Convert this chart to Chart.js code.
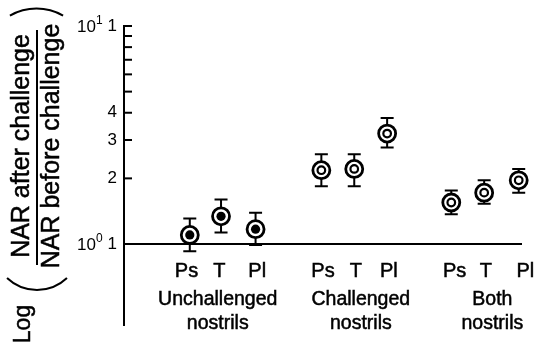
<!DOCTYPE html>
<html>
<head>
<meta charset="utf-8">
<script src="https://cdn.jsdelivr.net/npm/chart.js@4.4.1/dist/chart.umd.min.js"></script>
<style>
  body { margin: 0; background: #fff; }
  #wrap { width: 539px; height: 348px; }
</style>
</head>
<body>
<div id="wrap"><canvas id="narchart" width="539" height="348"></canvas></div>
<script>
// values
var categories = ["Ps", "T", "Pl", "Ps", "T", "Pl", "Ps", "T", "Pl"];
var xPos = [2, 2.95, 4, 6, 7, 8, 9.95, 10.95, 12];
var labelPos = [1.9, 2.9, 4.05, 6.05, 7.05, 8.05, 10.05, 11.0, 12.2];
var ratio = [1.10, 1.34, 1.17, 2.18, 2.21, 3.21, 1.55, 1.72, 1.96];
var upper = [1.31, 1.60, 1.39, 2.58, 2.58, 3.78, 1.76, 1.96, 2.21];
var lower = [0.925, 1.13, 0.99, 1.84, 1.84, 2.77, 1.37, 1.53, 1.72];
var filled = [true, true, true, false, false, false, false, false, false];
var groups = [["Unchallenged", "nostrils"], ["Challenged", "nostrils"], ["Both", "nostrils"]];
var groupPos = [2.85, 7.2, 11.2];
var yTicks = [1, 2, 3, 4, 5, 6, 7, 8, 9, 10];
var yTickLabels = {1: "1", 2: "2", 3: "3", 4: "4", 10: "1"};

var FONT = "'Liberation Sans', Arial, Helvetica, sans-serif";

var pts = xPos.map(function (x, i) { return { x: x, y: ratio[i] }; });

// slightly heavier text, like the printed figure
function label(ctx, txt, x, y) {
  ctx.fillText(txt, x, y);
  ctx.strokeText(txt, x, y);
}

// error bars, drawn under the markers
var errorBars = {
  id: "errorBars",
  beforeDatasetsDraw: function (chart) {
    var ctx = chart.ctx, xs = chart.scales.x, ys = chart.scales.y;
    ctx.save();
    ctx.strokeStyle = "#000";
    ctx.lineWidth = 2;
    xPos.forEach(function (x, i) {
      var px = xs.getPixelForValue(x);
      var top = ys.getPixelForValue(upper[i]);
      var bot = ys.getPixelForValue(lower[i]);
      ctx.beginPath();
      ctx.moveTo(px, top); ctx.lineTo(px, bot);
      ctx.moveTo(px - 6.5, top); ctx.lineTo(px + 6.5, top);
      ctx.moveTo(px - 6.5, bot); ctx.lineTo(px + 6.5, bot);
      ctx.stroke();
    });
    ctx.restore();
  }
};

// inward tick marks, labels and axis title
var decor = {
  id: "decor",
  afterDraw: function (chart) {
    var ctx = chart.ctx, xs = chart.scales.x, ys = chart.scales.y;
    var left = chart.chartArea.left;
    ctx.save();
    ctx.strokeStyle = "#000";
    ctx.lineWidth = 2;
    yTicks.forEach(function (v) {
      if (v === 1) return;
      var py = ys.getPixelForValue(v);
      ctx.beginPath();
      ctx.moveTo(left, py); ctx.lineTo(left + 8, py);
      ctx.stroke();
    });

    ctx.fillStyle = "#000";
    ctx.lineWidth = 0.5;
    // 10^1 and 10^0 in front of the two "1" ticks
    [[10, "1"], [1, "0"]].forEach(function (d) {
      var py = ys.getPixelForValue(d[0]);
      ctx.font = "17px " + FONT;
      ctx.textAlign = "left";
      ctx.textBaseline = "middle";
      ctx.fillText("10", 77, py + 1);
      ctx.font = "12px " + FONT;
      ctx.fillText(d[1], 96, py - 5);
    });

    // category labels
    ctx.font = "20px " + FONT;
    ctx.textAlign = "center";
    ctx.textBaseline = "middle";
    categories.forEach(function (c, i) {
      label(ctx, c, xs.getPixelForValue(labelPos[i]), 271);
    });
    // group labels
    ctx.font = "19.5px " + FONT;
    groups.forEach(function (g, i) {
      var px = xs.getPixelForValue(groupPos[i]);
      label(ctx, g[0], px, 300);
      label(ctx, g[1], px, 324);
    });

    // y axis title: Log ( NAR after / NAR before )
    ctx.save();
    ctx.rotate(-Math.PI / 2);
    ctx.font = "25px " + FONT;
    ctx.textAlign = "center";
    ctx.textBaseline = "middle";
    label(ctx, "NAR after challenge", -146, 22);
    label(ctx, "NAR before challenge", -146, 52);
    ctx.font = "23px " + FONT;
    label(ctx, "Log", -324, 24);
    ctx.restore();
    ctx.lineWidth = 2;
    ctx.beginPath();
    ctx.moveTo(37, 30); ctx.lineTo(37, 265);
    ctx.stroke();
    // rotated parentheses
    ctx.beginPath();
    ctx.arc(36.5, 62, 53.5, 1.5 * Math.PI - 0.52, 1.5 * Math.PI + 0.52);
    ctx.stroke();
    ctx.beginPath();
    ctx.arc(37, 246.5, 43.5, 0.5 * Math.PI - 0.76, 0.5 * Math.PI + 0.76);
    ctx.stroke();
    ctx.restore();
  }
};

new Chart("narchart", {
  type: "scatter",
  data: {
    datasets: [{
      // inner dot / inner ring (dataset 0 is painted on top)
      data: pts,
      clip: false,
      pointRadius: filled.map(function (f) { return f ? 4.6 : 3.8; }),
      pointBorderWidth: filled.map(function (f) { return f ? 0 : 2.2; }),
      pointBackgroundColor: filled.map(function (f) { return f ? "#000" : "#fff"; }),
      pointBorderColor: "#000",
      pointHoverRadius: 4
    }, {
      // outer ring
      data: pts,
      clip: false,
      pointRadius: 8.5,
      pointBorderWidth: 2.8,
      pointBackgroundColor: "#fff",
      pointBorderColor: "#000",
      pointHoverRadius: 8
    }]
  },
  options: {
    responsive: false,
    animation: false,
    events: [],
    layout: { padding: { left: 0, top: 26, right: 17, bottom: 23 } },
    plugins: { legend: { display: false }, tooltip: { enabled: false } },
    scales: {
      x: {
        type: "linear",
        min: 0,
        max: 12.1,
        display: false
      },
      y: {
        type: "logarithmic",
        min: 0.425,
        max: 10,
        afterFit: function (scale) { scale.width = 124; },
        afterBuildTicks: function (scale) {
          scale.ticks = yTicks.map(function (v) { return { value: v }; });
        },
        border: { display: true, color: "#000", width: 2 },
        grid: {
          drawTicks: false,
          lineWidth: 2,
          color: function (ctx) { return ctx.tick && ctx.tick.value === 1 ? "#000" : "rgba(0,0,0,0)"; }
        },
        ticks: {
          padding: 7,
          autoSkip: false,
          color: "#000",
          font: { size: 17, family: FONT },
          callback: function (v) { return yTickLabels[v] || ""; }
        }
      }
    }
  },
  plugins: [errorBars, decor]
});
</script>
</body>
</html>
